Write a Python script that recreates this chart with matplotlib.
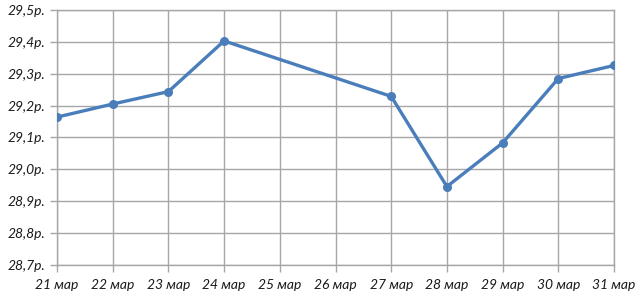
import matplotlib.pyplot as plt
import numpy as np

plt.rcParams['font.family'] = ['Lato', 'DejaVu Sans']

days = ['21 мар', '22 мар', '23 мар', '24 мар', '25 мар', '26 мар',
        '27 мар', '28 мар', '29 мар', '30 мар', '31 мар']
rate = [29.164, 29.205, 29.244, 29.403, np.nan, np.nan,
        29.229, 28.946, 29.083, 29.285, 29.326]
yticks = [28.7, 28.8, 28.9, 29.0, 29.1, 29.2, 29.3, 29.4, 29.5]

fig = plt.figure(figsize=(6.4, 3.04), dpi=100)
ax = fig.add_axes([57 / 640, 1 - 265 / 304, (614 - 57) / 640, (265 - 10) / 304])

x = np.arange(len(days))
y = np.array(rate)
ok = ~np.isnan(y)
ax.plot(x[ok], y[ok], color='#4a7ebb', linewidth=2.4, marker='o', markersize=5.5, zorder=3)

ax.set_xlim(0, len(days) - 1)
ax.set_ylim(28.7, 29.5)
ax.set_xticks(x)
ax.set_xticklabels(days)
ax.set_yticks(yticks)
ax.set_yticklabels(['{:.1f}р.'.format(v).replace('.', ',', 1) for v in yticks])

ax.grid(True, color='#a6a6a6', linewidth=1)
for s in ax.spines.values():
    s.set_color('#a6a6a6')
    s.set_linewidth(1)
ax.tick_params(axis='both', colors='#a6a6a6', length=5, width=1, labelcolor='#1a1a1a',
               labelsize=10)
ax.tick_params(axis='x', pad=5)
for t in ax.get_xticklabels() + ax.get_yticklabels():
    t.set_fontstyle('italic')

plt.savefig('out.png', dpi=100)
